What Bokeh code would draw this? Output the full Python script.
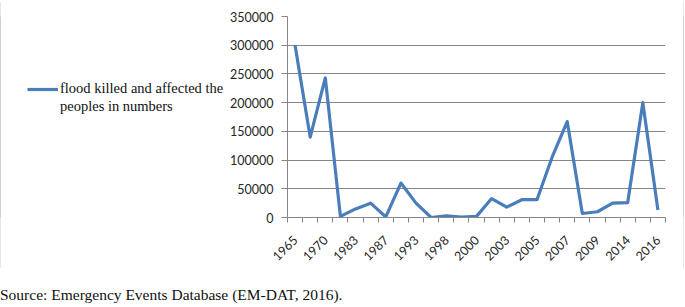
from math import pi
from bokeh.plotting import figure
from bokeh.layouts import column, row
from bokeh.models import (FixedTicker, Legend, LegendItem, Range1d,
                          ColumnDataSource, Div)
from bokeh.embed import file_html
from bokeh.resources import INLINE

# ---- data ----
year_labels = ["1965", "1970", "1983", "1987", "1993", "1998", "2000",
               "2003", "2005", "2007", "2009", "2014", "2016"]
values = [300000, 140000, 243000, 2000, 15000, 25000, 1000, 60000, 25000, 0,
          3000, 500, 2000, 33000, 18000, 31000, 31000, 105000, 167000, 7000,
          10000, 25000, 26000, 200000, 13000]
y_ticks = [0, 50000, 100000, 150000, 200000, 250000, 300000, 350000]
series_name_lines = ["flood killed and affected the", "peoples in numbers"]
source_text = "Source: Emergency Events Database (EM-DAT, 2016)."

idx = list(range(len(values)))
label_pos = idx[::2]
src = ColumnDataSource(dict(x=idx, y=values))

GREY = "#868686"
BOX = "#a0a0a0"
TXT = "#262626"
BLUE = "#4A7EBB"

H = 267
W1 = 226
W2 = 682 - W1
TOTAL_W = W1 + W2 + 2


def strip(w, h):
    """A thin grey figure used as one side of the outer frame."""
    s = figure(width=w, height=h, output_backend="svg", toolbar_location=None,
               min_border=0, x_axis_type=None, y_axis_type=None)
    s.outline_line_color = None
    s.xgrid.visible = False
    s.ygrid.visible = False
    s.background_fill_color = BOX
    s.border_fill_color = BOX
    return s


# ---- legend panel (left part of the box) ----
lf = figure(width=W1, height=H, output_backend="svg", toolbar_location=None,
            min_border=0, x_axis_type=None, y_axis_type=None,
            x_range=Range1d(-0.5, len(values) - 0.5), y_range=Range1d(-2, -1))
lf.outline_line_color = None
lf.xgrid.visible = False
lf.ygrid.visible = False
# same series; lies outside this panel's range, used only for the legend key
lr1 = lf.line("x", "y", source=src, line_color=BLUE, line_width=3.2)
lr2 = lf.line("x", "y", source=src, line_color=BLUE, line_alpha=0)
legend = Legend(items=[LegendItem(label=series_name_lines[0], renderers=[lr1]),
                       LegendItem(label=series_name_lines[1], renderers=[lr2])],
                location=(26, 102), label_text_font="Liberation Serif",
                label_text_font_size="14.5px", label_text_color="#111111",
                glyph_width=31, glyph_height=16, label_height=16, spacing=1,
                label_standoff=2, padding=0, margin=0,
                border_line_color=None, background_fill_alpha=0)
lf.add_layout(legend)

# ---- main chart ----
p = figure(width=W2, height=H, output_backend="svg", toolbar_location=None,
           x_range=Range1d(-0.5, len(values) - 0.5), y_range=Range1d(0, 350000),
           min_border_left=285 - W1, min_border_right=18, min_border_top=15,
           min_border_bottom=51)
p.outline_line_color = None
p.background_fill_color = "white"
p.border_fill_color = "white"

p.line("x", "y", source=src, line_color=BLUE, line_width=3.2, line_join="round")

# y axis
p.yaxis.ticker = FixedTicker(ticks=y_ticks, minor_ticks=[])
p.yaxis.axis_line_color = GREY
p.yaxis.major_tick_line_color = GREY
p.yaxis.major_tick_out = 6
p.yaxis.major_tick_in = 0
p.yaxis.minor_tick_line_color = None
p.yaxis.major_label_standoff = 8
p.yaxis.major_label_text_font = "Lato"
p.yaxis.major_label_text_font_size = "12.5px"
p.yaxis.major_label_text_color = TXT
p.yaxis.formatter.use_scientific = False

# x axis
p.xaxis.ticker = FixedTicker(ticks=label_pos,
                             minor_ticks=[i - 0.5 for i in range(len(values) + 1)])
p.xaxis.major_label_overrides = {i: year_labels[k] for k, i in enumerate(label_pos)}
p.xaxis.axis_line_color = GREY
p.xaxis.major_tick_line_color = None
p.xaxis.minor_tick_line_color = GREY
p.xaxis.minor_tick_out = 5
p.xaxis.minor_tick_in = 0
p.xaxis.major_label_orientation = pi / 4
p.xaxis.major_label_standoff = 14
p.xaxis.major_label_text_font = "Lato"
p.xaxis.major_label_text_font_size = "12.5px"
p.xaxis.major_label_text_color = TXT

p.xgrid.grid_line_color = None
p.ygrid.grid_line_color = GREY
p.ygrid.grid_line_width = 1
p.ygrid.ticker = FixedTicker(ticks=y_ticks)

box = column(strip(TOTAL_W, 1),
             row(strip(1, H), lf, p, strip(1, H), spacing=0),
             strip(TOTAL_W, 1), spacing=0)

div = Div(text=source_text, width=685, height=20, margin=(17, 0, 0, 0),
          styles={"font-family": "Liberation Serif", "font-size": "15.5px",
                  "color": "#111111", "line-height": "18px",
                  "white-space": "nowrap"})

layout = column(box, div, spacing=0)
open("out.html", "w").write(file_html(layout, INLINE))
